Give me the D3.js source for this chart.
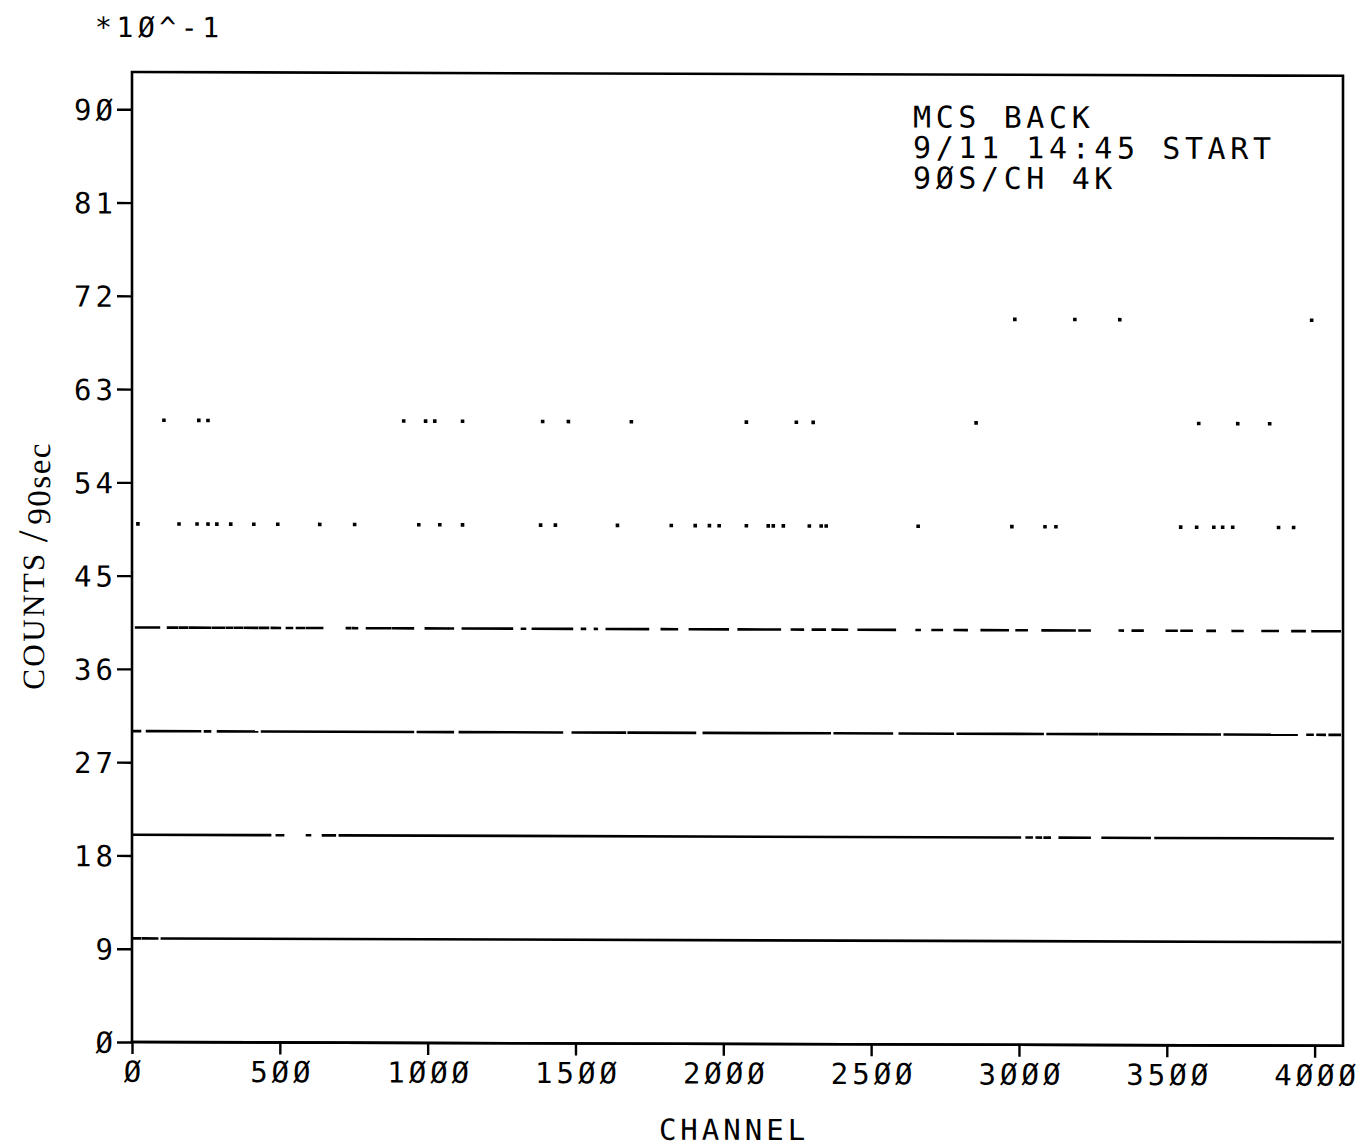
<!DOCTYPE html>
<html>
<head>
<meta charset="utf-8">
<title>MCS BACK</title>
<style>
  body { margin: 0; background: #fff; }
  text { fill: #000; }
  .plotter { font-family: 'DejaVu Sans Mono', monospace; }
</style>
</head>
<body>
<script src="https://d3js.org/d3.v7.min.js"></script>
<script>

// axis ticks (counts are shown *10^-1)
var xTicks = [0, 500, 1000, 1500, 2000, 2500, 3000, 3500, 4000];
var yTicks = [0, 9, 18, 27, 36, 45, 54, 63, 72, 81, 90];
var infoLines = ["MCS BACK", "9/11 14:45 START", "90S/CH 4K"];

// channel runs [first, last] that sit on each count level
var runs0 = [[0, 4085]];
var runs10 = [[3, 27], [37, 85], [101, 4085]];
var runs20 = [[3, 467], [490, 511], [592, 602], [646, 686], [703, 3003], [3026, 3043],
    [3060, 3074], [3087, 3104], [3138, 3239], [3283, 3442], [3462, 4061]];
var runs30 = [[3, 27], [51, 230], [247, 264], [291, 423], [440, 950], [967, 1085],
    [1109, 1454], [1491, 1667], [1680, 1904], [1934, 2360], [2377, 2570], [2597, 2776],
    [2793, 3080], [3097, 3263], [3273, 3679], [3696, 3939], [3976, 3993], [4010, 4034],
    [4051, 4085]];
var runs40 = [[14, 91], [122, 135], [142, 152], [162, 186], [196, 264], [274, 311],
    [321, 338], [348, 372], [382, 423], [433, 460], [473, 500], [524, 541], [558, 582],
    [592, 643], [727, 737], [747, 761], [795, 872], [882, 950], [994, 1068], [1075, 1085],
    [1119, 1285], [1319, 1329], [1356, 1488], [1522, 1532], [1566, 1572], [1606, 1745],
    [1792, 1843], [1887, 2015], [2052, 2191], [2232, 2269], [2303, 2343], [2370, 2418],
    [2458, 2580], [2654, 2664], [2708, 2739], [2783, 2823], [2874, 2962], [2992, 3026],
    [3080, 3188], [3205, 3239], [3341, 3351], [3385, 3418], [3500, 3533], [3550, 3584],
    [3638, 3662], [3723, 3756], [3824, 3875], [3925, 3966], [3993, 4085]];

// single channels at the higher levels
var dots50 = [20, 159, 220, 257, 287, 334, 412, 493, 635, 753, 970, 1041, 1118, 1382,
    1432, 1642, 1824, 1905, 1953, 1986, 2078, 2152, 2169, 2203, 2291, 2331, 2348, 2659,
    2976, 3088, 3125, 3547, 3601, 3659, 3689, 3723, 3878, 3929];
var dots60 = [108, 226, 257, 919, 993, 1024, 1118, 1389, 1476, 1689, 2078, 2247, 2304,
    2855, 3608, 3740, 3848];
var dots70 = [2986, 3189, 3341, 3990];

var levelRuns = [[0, runs0], [10, runs10], [20, runs20], [30, runs30], [40, runs40]];
var levelDots = [[50, dots50], [60, dots60], [70, dots70]];

var padLeft = 132, padTop = 72, plotW = 1211, plotH = 970;

var x = d3.scaleLinear().domain([0, 4096]).range([0, plotW]);
var y = d3.scaleLinear().domain([0, 93.6]).range([plotH, 0]);

function plotterNum(d) { return String(d).replace(/0/g, "\u00D8"); }

var svg = d3.select("body").append("svg")
    .attr("width", 1364)
    .attr("height", 1148);

// the scanned sheet runs slightly downhill to the right
var g = svg.append("g")
    .attr("transform", "translate(" + padLeft + "," + padTop + ") skewY(0.18)");

g.append("rect")
    .attr("width", plotW)
    .attr("height", plotH)
    .attr("fill", "none")
    .attr("stroke", "#000")
    .attr("stroke-width", 2.6);

// y axis
var yAxis = g.append("g")
    .call(d3.axisLeft(y).tickValues(yTicks).tickSize(15).tickPadding(4).tickFormat(plotterNum));
yAxis.select(".domain").remove();
yAxis.selectAll("line").attr("stroke", "#000").attr("stroke-width", 2.4);
yAxis.selectAll("text")
    .attr("class", "plotter")
    .attr("font-size", 29)
    .attr("letter-spacing", 4)
    .attr("dx", 4)
    .attr("dy", "0.36em");

// x axis
var xAxis = g.append("g")
    .attr("transform", "translate(0," + plotH + ")")
    .call(d3.axisBottom(x).tickValues(xTicks).tickSize(12).tickPadding(6).tickFormat(plotterNum));
xAxis.select(".domain").remove();
xAxis.selectAll("line").attr("stroke", "#000").attr("stroke-width", 2.4);
xAxis.selectAll("text")
    .attr("class", "plotter")
    .attr("font-size", 29)
    .attr("letter-spacing", 4)
    .attr("dx", 2)
    .attr("dy", "0.75em");

// data: runs of channels drawn as plotter strokes
levelRuns.forEach(function(lv) {
    g.append("g").selectAll("line")
        .data(lv[1])
        .join("line")
        .attr("x1", function(d) { return x(d[0]); })
        .attr("x2", function(d) { return x(d[1]); })
        .attr("y1", y(lv[0]))
        .attr("y2", y(lv[0]))
        .attr("stroke", "#000")
        .attr("stroke-width", 2.6)
        .attr("stroke-linecap", "square");
});

levelDots.forEach(function(lv) {
    g.append("g").selectAll("rect")
        .data(lv[1])
        .join("rect")
        .attr("x", function(d) { return x(d) - 1.8; })
        .attr("y", y(lv[0]) - 1.8)
        .attr("width", 3.6)
        .attr("height", 3.6)
        .attr("fill", "#000");
});

// labels
g.append("text")
    .attr("class", "plotter")
    .attr("x", 95 - padLeft)
    .attr("y", 37 - padTop)
    .attr("font-size", 28)
    .attr("letter-spacing", 4.6)
    .text("*1\u00D8^-1");

g.append("g").selectAll("text")
    .data(infoLines)
    .join("text")
    .attr("class", "plotter")
    .attr("x", 913 - padLeft)
    .attr("y", function(d, i) { return 125 - padTop + i * 30.5; })
    .attr("font-size", 30)
    .attr("letter-spacing", 4.6)
    .text(function(d) { return d.replace(/0/g, "\u00D8"); });

g.append("text")
    .attr("class", "plotter")
    .attr("x", 734 - padLeft)
    .attr("y", 1138 - padTop)
    .attr("font-size", 29)
    .attr("letter-spacing", 4)
    .attr("text-anchor", "middle")
    .text("CHANNEL");

var yTitle = g.append("text")
    .attr("font-family", "'Liberation Serif', serif")
    .attr("transform", "translate(" + (44 - padLeft) + "," + (690 - padTop) + ") rotate(-90)");
yTitle.append("tspan")
    .attr("font-size", 31)
    .attr("letter-spacing", 2.4)
    .text("COUNTS");
yTitle.append("tspan")
    .attr("font-size", 42)
    .attr("dx", 9)
    .attr("dy", 3)
    .text("/");
yTitle.append("tspan")
    .attr("font-size", 33)
    .attr("letter-spacing", 1.5)
    .attr("dx", 6)
    .attr("dy", 3)
    .text("90sec");

</script>
</body>
</html>
